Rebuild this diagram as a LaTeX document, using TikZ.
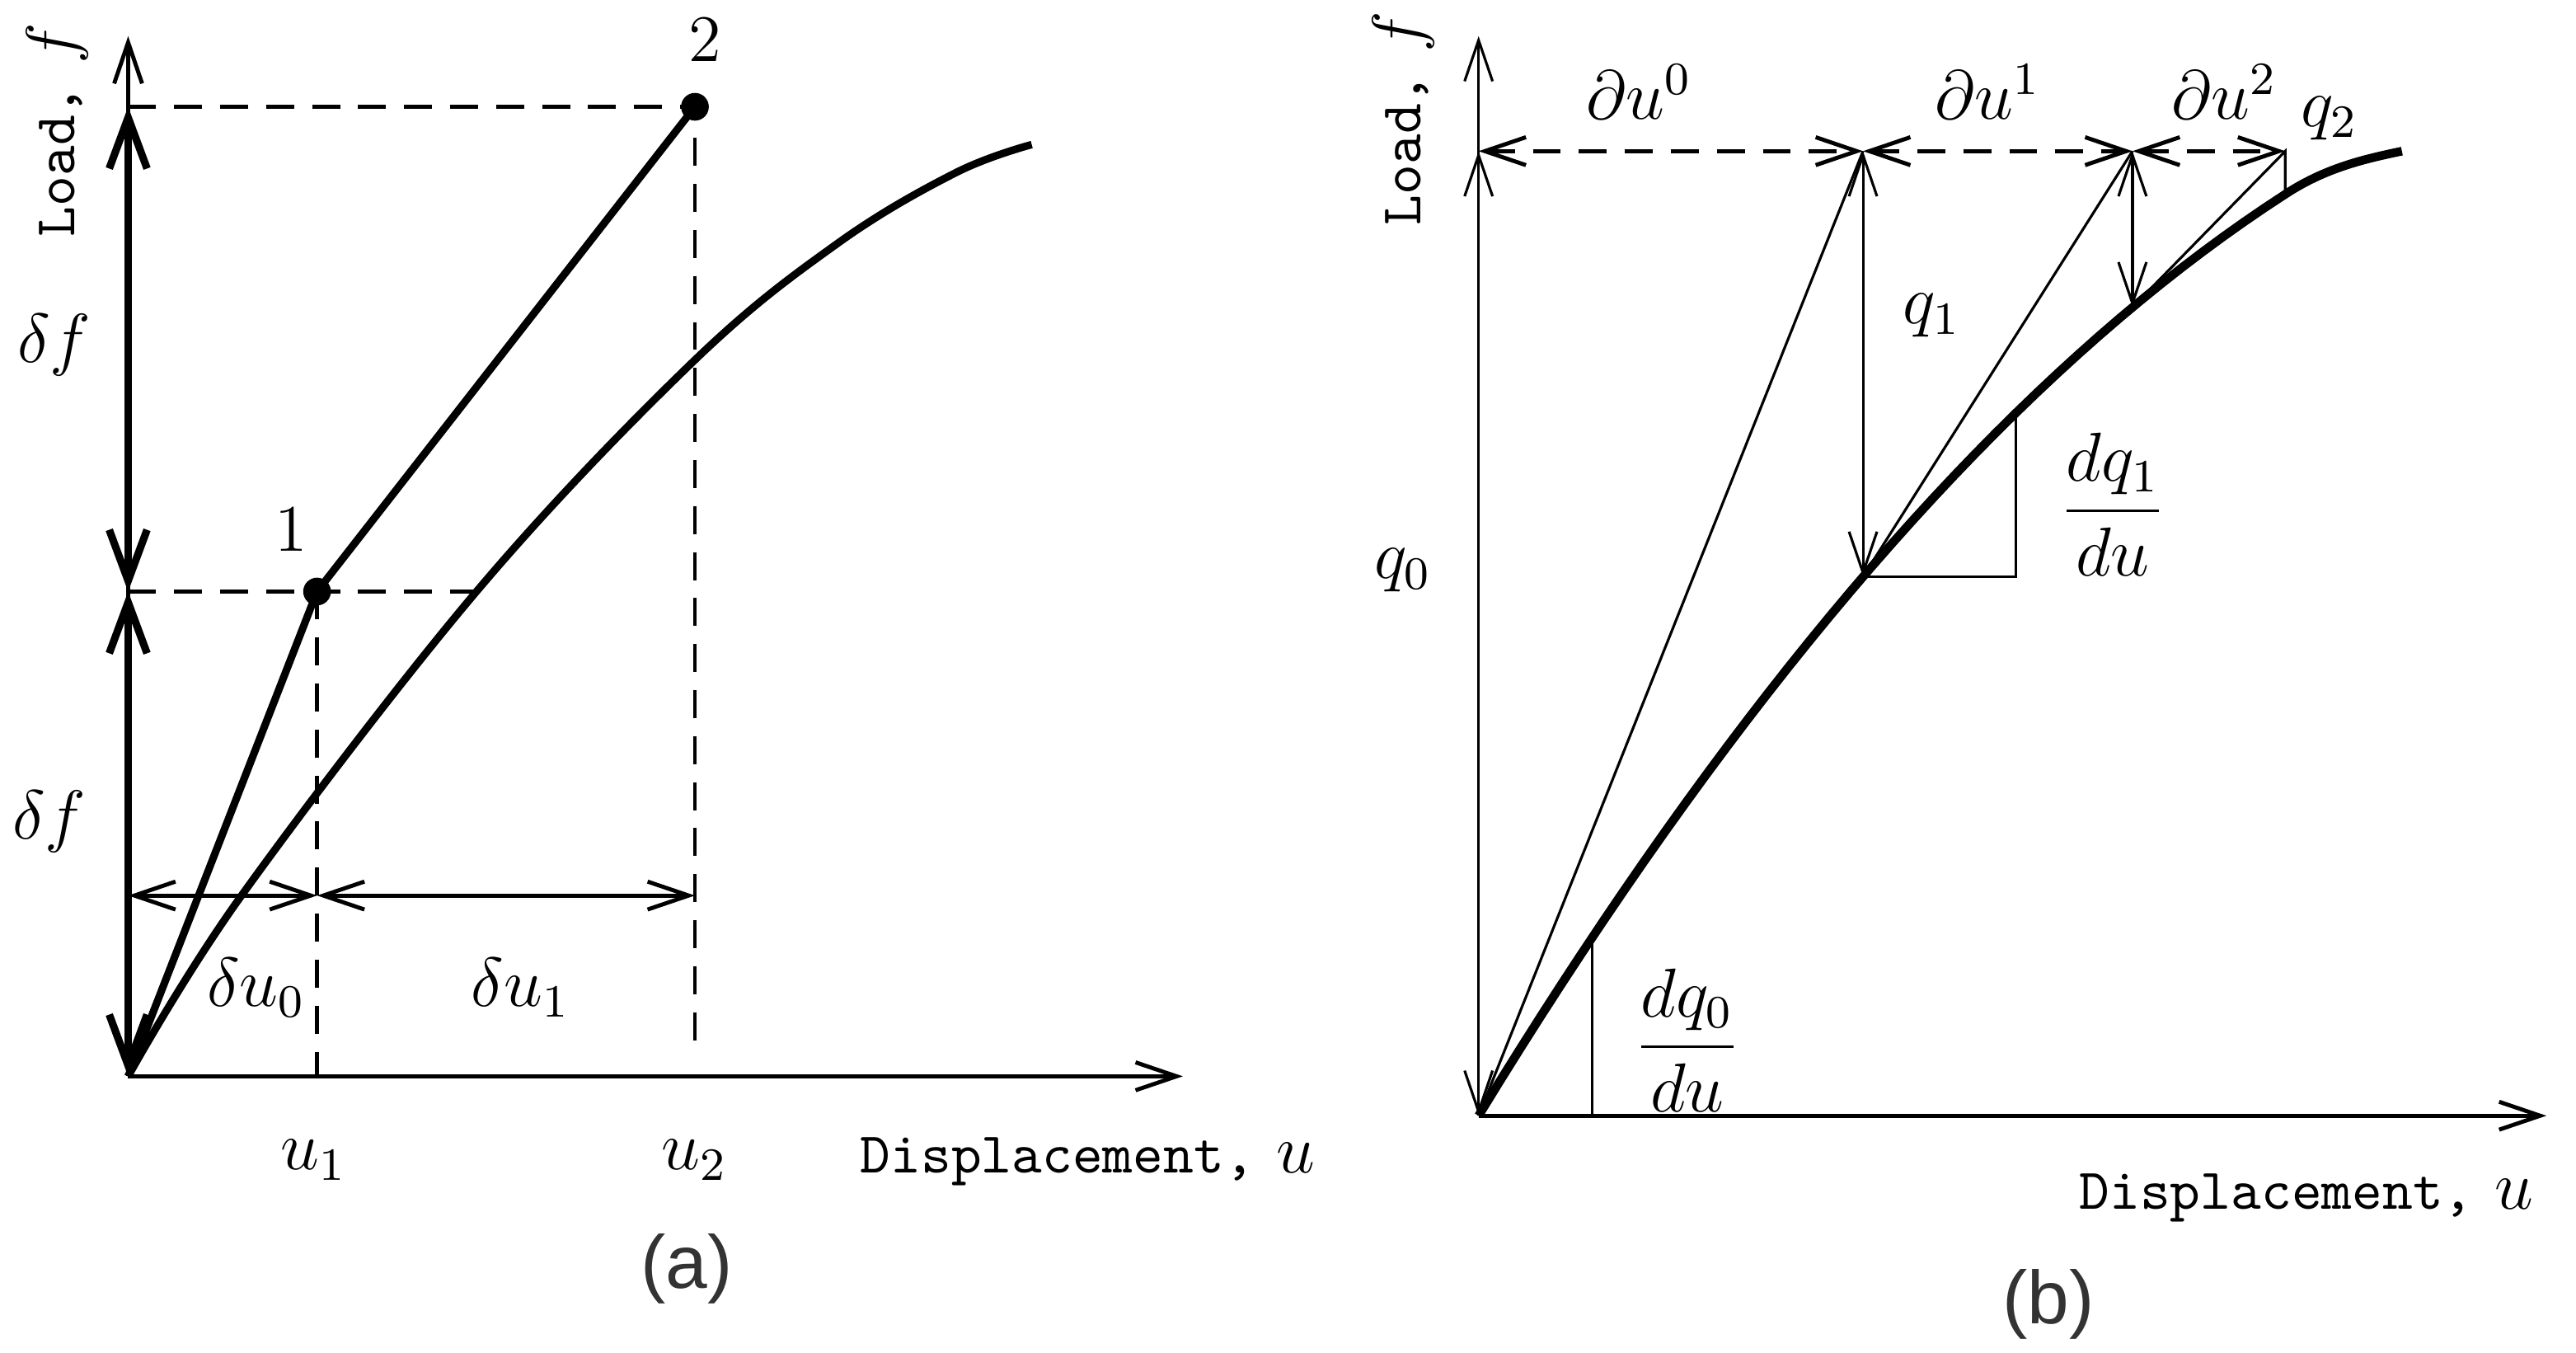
\documentclass[tikz,border=0pt]{standalone}
\usepackage{fontspec}
\newfontfamily\captionfont{Liberation Sans}
\usetikzlibrary{arrows.meta}

\begin{document}
\begin{tikzpicture}[>={Straight Barb[length=2.5mm,width=1.7mm]},
  achse/.style={line width=0.7pt},
  fett/.style={line width=1.3pt},
  dick/.style={line width=1.3pt, >={Straight Barb[length=3.1mm,width=2.3mm]}, <->},
  duenn/.style={line width=0.45pt},
  strich/.style={line width=0.7pt, dash pattern=on 1.7mm off 1.1mm},
  formel/.style={font=\fontsize{11.5}{14}\selectfont},
  bild/.style={font=\captionfont\fontsize{13}{15}\selectfont, text=black!80}]

\newcommand\achstext{{\ttfamily\fontsize{10}{12}\selectfont Displacement,} $u$}
\newcommand\lasttext{{\ttfamily\fontsize{10}{12}\selectfont Load,} $f$}

\useasboundingbox (-0.78,-1.68) rectangle (14.90,6.55);

%Diagramm (a)
\coordinate (Oa) at (0,0);
\coordinate (ya) at (0,6.33);
\coordinate (xa) at (6.42,0);
\coordinate (P1) at (1.15,2.95);
\coordinate (P2) at (3.45,5.90);
\coordinate (f1) at (0,2.95);
\coordinate (f2) at (0,5.90);
\coordinate (k1) at (2.12,2.95);
\coordinate (u1) at (1.15,0);
\coordinate (u2) at (3.45,0.12);
\coordinate (h0) at (0,1.10);
\coordinate (h1) at (1.15,1.10);
\coordinate (h2) at (3.45,1.10);

%Achsen
\draw[->, achse] (Oa) -- (ya);
\draw[->, achse] (Oa) -- (xa);

%Kurve und Sekanten
\newcommand\kurvea{plot[smooth, tension=0.6] coordinates {(0,0) (0.69,1.10) (2.12,2.95) (3.44,4.35) (4.32,5.07) (5.04,5.50) (5.50,5.67)}}
\draw[fett] \kurvea;
\draw[fett] (Oa) -- (P1) -- (P2);
\fill (P1) circle (2.4pt);
\fill (P2) circle (2.4pt);

\draw[strich] (f2) -- (P2) -- (u2);
\draw[strich] (f1) -- (k1);
\draw[strich] (P1) -- (u1);

\draw[dick] (f1) -- (f2);
\draw[dick] (Oa) -- (f1);
\draw[<->, achse] (h0) -- (h1);
\draw[<->, achse] (h1) -- (h2);

\node[formel] (n1) at (0.99,3.33) {1};
\node[formel] (n2) at (3.51,6.31) {2};
\node[formel] (dfo) at (-0.45,4.45) {$\delta f$};
\node[formel] (dfu) at (-0.48,1.55) {$\delta f$};
\node[formel] (du0) at (0.78,0.54) {$\delta u_0$};
\node[formel] (du1) at (2.39,0.54) {$\delta u_1$};
\node[formel] (lu1) at (1.13,-0.51) {$u_1$};
\node[formel] (lu2) at (3.45,-0.51) {$u_2$};
\node[formel] (dispa) at (5.84,-0.52) {\achstext};
\node[formel, rotate=90] (loada) at (-0.43,5.76) {\lasttext};
\node[bild] (capa) at (3.40,-1.17) {(a)};


%Diagramm (b)
\begin{scope}[shift={(8.22,-0.24)}]
\coordinate (Ob) at (0,0);
\coordinate (yb) at (0,6.57);
\coordinate (xb) at (6.50,0);
\coordinate (T0) at (0,5.87);
\coordinate (A0) at (2.34,5.87);
\coordinate (A1) at (3.98,5.87);
\coordinate (A2) at (4.91,5.87);
\coordinate (C1) at (2.34,3.28);
\coordinate (C2) at (3.98,4.92);
\coordinate (C3) at (4.91,5.61);
\coordinate (S1) at (3.27,3.28);
\coordinate (S1o) at (3.27,4.27);
\coordinate (S0) at (0.69,0);
\coordinate (S0o) at (0.69,1.08);

\draw[->, duenn] (Ob) -- (yb);
\draw[->, achse] (Ob) -- (xb);

\newcommand\kurveb{plot[domain=0:4.91, samples=40] (\x,{1.638*\x-0.101*\x*\x}) .. controls (5.15,5.765) and (5.38,5.82) .. (5.62,5.87)}
\draw[line width=1.5pt] \kurveb;

%Iteration
\draw[duenn] (Ob) -- (A0);
\draw[duenn] (C1) -- (A1);
\draw[duenn] (C2) -- (A2) -- (C3);
\draw[<->, duenn] (Ob) -- (T0);
\draw[<->, duenn] (A0) -- (C1);
\draw[<->, duenn] (A1) -- (C2);
\draw[<->, strich] (T0) -- (A0);
\draw[<->, strich] (A0) -- (A1);
\draw[<->, strich] (A1) -- (A2);

%Steigungsdreiecke
\draw[duenn] (C1) -- (S1) -- (S1o);
\draw[duenn] (Ob) -- (S0) -- (S0o);

\node[formel] (pu0) at (0.98,6.23) {$\partial u^0$};
\node[formel] (pu1) at (3.10,6.23) {$\partial u^1$};
\node[formel] (pu2) at (4.54,6.23) {$\partial u^2$};
\node[formel] (q2) at (5.18,6.07) {$q_2$};
\node[formel] (q1) at (2.76,4.87) {$q_1$};
\node[formel] (q0) at (-0.46,3.32) {$q_0$};
\node[formel] (dq1) at (3.86,3.72) {$\displaystyle\frac{dq_1}{du}$};
\node[formel] (dq0) at (1.27,0.46) {$\displaystyle\frac{dq_0}{du}$};
\node[formel] (dispb) at (5.04,-0.50) {\achstext};
\node[formel, rotate=90] (loadb) at (-0.46,6.07) {\lasttext};
\node[bild] (capb) at (3.47,-1.15) {(b)};
\end{scope}

\end{tikzpicture}
\end{document}
